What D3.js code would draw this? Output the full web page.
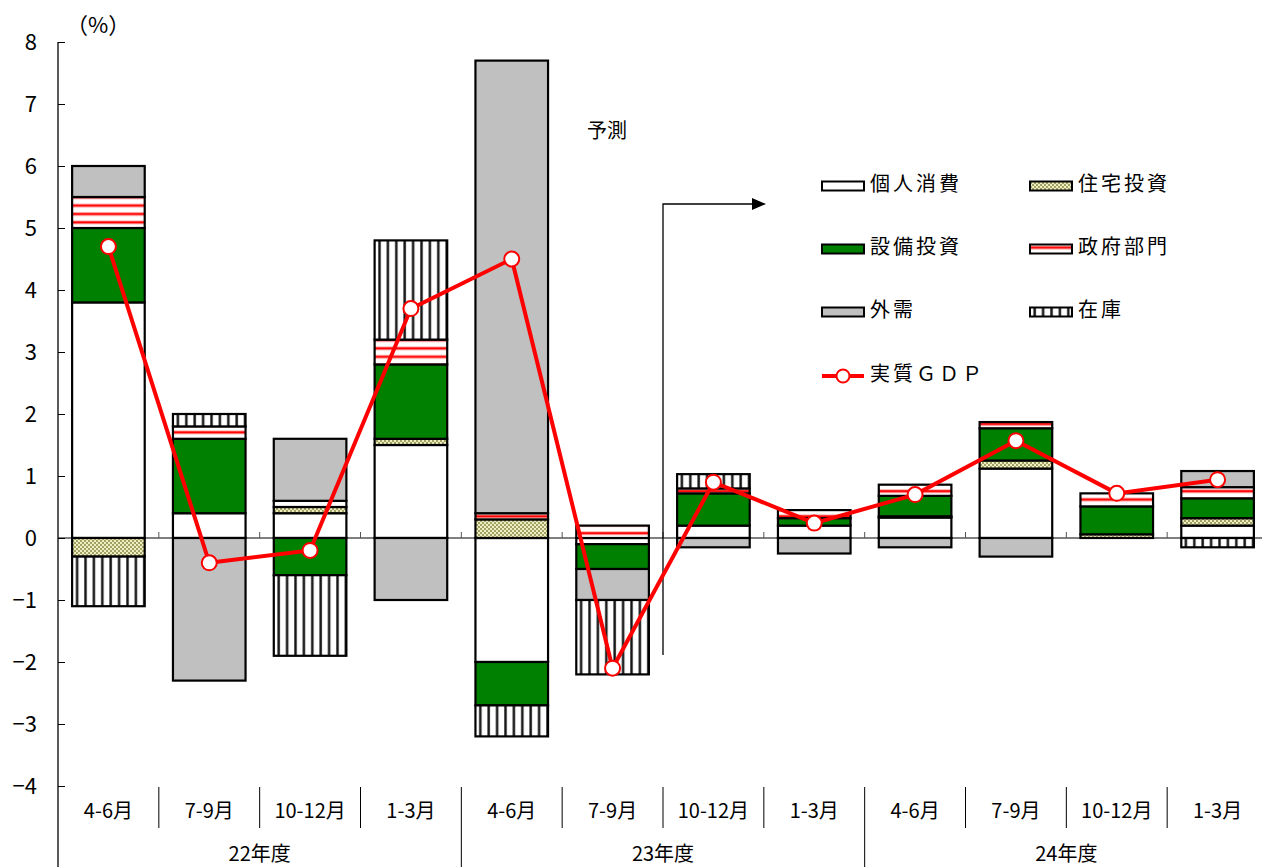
<!DOCTYPE html>
<html>
<head>
<meta charset="utf-8">
<script src="https://cdn.jsdelivr.net/npm/d3@7"></script>
<style>
  body { margin: 0; background: #fff; }
  text { font-family: "Noto Sans CJK JP", "Noto Sans", sans-serif; fill: #000; }
</style>
</head>
<body>
<div id="chart"></div>
<script>
const fiscalYears = ["22年度", "23年度", "24年度"];
const quarterLabels = ["4-6月", "7-9月", "10-12月", "1-3月"];
const seriesNames = ["個人消費", "住宅投資", "設備投資", "政府部門", "外需", "在庫"];
const consumption    = [3.8, 0.4, 0.4, 1.5, -2.0, -0.1, 0.2, 0.2, 0.33, 1.12, 0, 0.2];
const housing        = [-0.3, 0, 0.1, 0.1, 0.3, 0, 0, 0, 0.02, 0.13, 0.06, 0.12];
const capex          = [1.2, 1.2, -0.6, 1.2, -0.7, -0.4, 0.52, 0.12, 0.33, 0.52, 0.45, 0.32];
const government     = [0.5, 0.2, 0.1, 0.4, 0.1, 0.2, 0.08, 0.13, 0.18, 0.1, 0.21, 0.18];
const externalDemand = [0.5, -2.3, 1.0, -1.0, 7.3, -0.5, -0.15, -0.25, -0.15, -0.3, 0, 0.26];
const inventory      = [-0.8, 0.2, -1.3, 1.6, -0.5, -1.2, 0.23, 0, 0, 0, 0, -0.15];
const realGdp        = [4.7, -0.4, -0.2, 3.7, 4.5, -2.1, 0.9, 0.24, 0.7, 1.57, 0.72, 0.94];
const yTicks = [-4, -3, -2, -1, 0, 1, 2, 3, 4, 5, 6, 7, 8];

const width = 1262, height = 867;
const margin = { top: 42, left: 58, right: -6, bottom: 81 };

const svg = d3.select("#chart").append("svg")
    .attr("width", width)
    .attr("height", height);

// build rows for the stack
const columns = [consumption, housing, capex, government, externalDemand, inventory];
const rows = realGdp.map((g, i) => {
    const r = { idx: i, gdp: g };
    seriesNames.forEach((k, j) => r[k] = columns[j][i]);
    return r;
});

const stacked = d3.stack()
    .keys(seriesNames)
    .offset(d3.stackOffsetDiverging)(rows);

// scales
const xScale = d3.scaleBand()
    .domain(d3.range(rows.length))
    .range([margin.left, width - margin.right])
    .paddingInner(0.28)
    .paddingOuter(0.14);

const yScale = d3.scaleLinear()
    .domain([-4, 8])
    .range([height - margin.bottom, margin.top]);

// patterns
const defs = svg.append("defs");

const pHousing = defs.append("pattern").attr("id", "p-housing")
    .attr("patternUnits", "userSpaceOnUse").attr("width", 4).attr("height", 4);
pHousing.append("rect").attr("width", 4).attr("height", 4).attr("fill", "#eeeec4");
pHousing.append("rect").attr("width", 2).attr("height", 2).attr("fill", "#a2a262");
pHousing.append("rect").attr("x", 2).attr("y", 2).attr("width", 2).attr("height", 2).attr("fill", "#a2a262");

const pGov = defs.append("pattern").attr("id", "p-gov")
    .attr("patternUnits", "userSpaceOnUse").attr("width", 8).attr("height", 8.4);
pGov.append("rect").attr("width", 8).attr("height", 8.4).attr("fill", "#fff");
pGov.append("rect").attr("y", 2).attr("width", 8).attr("height", 4).attr("fill", "#ffb0b0");
pGov.append("rect").attr("y", 3).attr("width", 8).attr("height", 2).attr("fill", "#ff0000");

const pInv = defs.append("pattern").attr("id", "p-inv")
    .attr("patternUnits", "userSpaceOnUse").attr("width", 8.4).attr("height", 8);
pInv.append("rect").attr("width", 8.4).attr("height", 8).attr("fill", "#fff");
pInv.append("rect").attr("x", 0).attr("width", 3).attr("height", 8).attr("fill", "#999");
pInv.append("rect").attr("x", 0.5).attr("width", 2).attr("height", 8).attr("fill", "#111");

const fills = {
    "個人消費": "#ffffff",
    "住宅投資": "url(#p-housing)",
    "設備投資": "#008000",
    "政府部門": "url(#p-gov)",
    "外需": "#c0c0c0",
    "在庫": "url(#p-inv)"
};

// y axis (ticks pointing inwards)
const yAxis = svg.append("g")
    .attr("transform", `translate(${margin.left},0)`)
    .call(d3.axisLeft(yScale).tickValues(yTicks).tickSizeInner(-7).tickSizeOuter(0).tickPadding(21));
yAxis.select(".domain").remove();
yAxis.selectAll("text").style("font-size", "22px");
yAxis.selectAll("line").attr("stroke", "#000");

svg.append("line")
    .attr("x1", margin.left).attr("x2", margin.left)
    .attr("y1", margin.top).attr("y2", height)
    .attr("stroke", "#000").attr("stroke-width", 1.3);

svg.append("text")
    .attr("x", 66).attr("y", 27)
    .attr("dominant-baseline", "middle")
    .style("font-size", "22px")
    .text("（%）");

// zero line + small boundary ticks
svg.append("line")
    .attr("x1", margin.left).attr("x2", width)
    .attr("y1", yScale(0)).attr("y2", yScale(0))
    .attr("stroke", "#000").attr("stroke-width", 1.2);

const step = xScale.step();
const bounds = d3.range(1, rows.length).map(i => margin.left + i * step);
svg.selectAll(".zt").data(bounds).join("line")
    .attr("x1", d => d).attr("x2", d => d)
    .attr("y1", yScale(0) - 6).attr("y2", yScale(0))
    .attr("stroke", "#555").attr("stroke-width", 1);

// bars
svg.append("g").selectAll("g")
    .data(stacked)
    .join("g")
    .attr("fill", d => fills[d.key])
    .selectAll("rect")
    .data(d => d.filter(p => p[1] !== p[0]))
    .join("rect")
    .attr("x", d => xScale(d.data.idx))
    .attr("width", xScale.bandwidth())
    .attr("y", d => yScale(d[1]))
    .attr("height", d => yScale(d[0]) - yScale(d[1]))
    .attr("stroke", "#000")
    .attr("stroke-width", 2.2);

// forecast arrow
svg.append("path")
    .attr("d", `M${margin.left + 6 * step},655 V204 H754`)
    .attr("fill", "none").attr("stroke", "#000").attr("stroke-width", 1.3);
svg.append("path")
    .attr("d", "M752,198 L766,204 L752,210 Z")
    .attr("fill", "#000");
svg.append("text")
    .attr("x", 587).attr("y", 133)
    .attr("dominant-baseline", "middle")
    .style("font-size", "20px")
    .text("予測");

// real GDP line
const line = d3.line()
    .x(d => xScale(d.idx) + xScale.bandwidth() / 2)
    .y(d => yScale(d.gdp));

svg.append("path")
    .datum(rows)
    .attr("d", line)
    .attr("fill", "none")
    .attr("stroke", "#ff0000")
    .attr("stroke-width", 4);

svg.selectAll(".gdp").data(rows).join("circle")
    .attr("cx", d => xScale(d.idx) + xScale.bandwidth() / 2)
    .attr("cy", d => yScale(d.gdp))
    .attr("r", 7.5)
    .attr("fill", "#fff")
    .attr("stroke", "#ff0000")
    .attr("stroke-width", 2);

// category axis at the bottom
const yBase = yScale(-4);
svg.selectAll(".ql").data(rows).join("text")
    .attr("x", d => xScale(d.idx) + xScale.bandwidth() / 2)
    .attr("y", 813)
    .attr("text-anchor", "middle")
    .attr("dominant-baseline", "middle")
    .style("font-size", "20px")
    .text(d => quarterLabels[d.idx % 4]);

svg.selectAll(".qsep").data(bounds).join("line")
    .attr("x1", d => d).attr("x2", d => d)
    .attr("y1", yBase + 1)
    .attr("y2", (d, i) => (i + 1) % 4 === 0 ? height : 828)
    .attr("stroke", "#000").attr("stroke-width", 1);

svg.selectAll(".yl").data(fiscalYears).join("text")
    .attr("x", (d, i) => margin.left + (i * 4 + 2) * step)
    .attr("y", 856)
    .attr("text-anchor", "middle")
    .attr("dominant-baseline", "middle")
    .style("font-size", "20px")
    .text(d => d);

// legend
const legendItems = [
    { name: "個人消費", x: 822, y: 186 },
    { name: "住宅投資", x: 1030, y: 186 },
    { name: "設備投資", x: 822, y: 249 },
    { name: "政府部門", x: 1030, y: 249 },
    { name: "外需", x: 822, y: 312 },
    { name: "在庫", x: 1030, y: 312 }
];
const legend = svg.append("g");
legendItems.forEach(it => {
    legend.append("rect")
        .attr("x", it.x).attr("y", it.y - 4.5)
        .attr("width", 42).attr("height", 9)
        .attr("fill", fills[it.name])
        .attr("stroke", "#000").attr("stroke-width", 2);
    legend.append("text")
        .attr("x", it.x + 48).attr("y", it.y)
        .attr("dominant-baseline", "middle")
        .style("font-size", "20px")
        .style("letter-spacing", "3px")
        .text(it.name);
});
legend.append("line")
    .attr("x1", 822).attr("x2", 864).attr("y1", 376).attr("y2", 376)
    .attr("stroke", "#ff0000").attr("stroke-width", 4);
legend.append("circle")
    .attr("cx", 843).attr("cy", 376).attr("r", 6.5)
    .attr("fill", "#fff").attr("stroke", "#ff0000").attr("stroke-width", 2);
legend.append("text")
    .attr("x", 870).attr("y", 376)
    .attr("dominant-baseline", "middle")
    .style("font-size", "20px")
    .style("letter-spacing", "3px")
    .text("実質ＧＤＰ");
</script>
</body>
</html>
